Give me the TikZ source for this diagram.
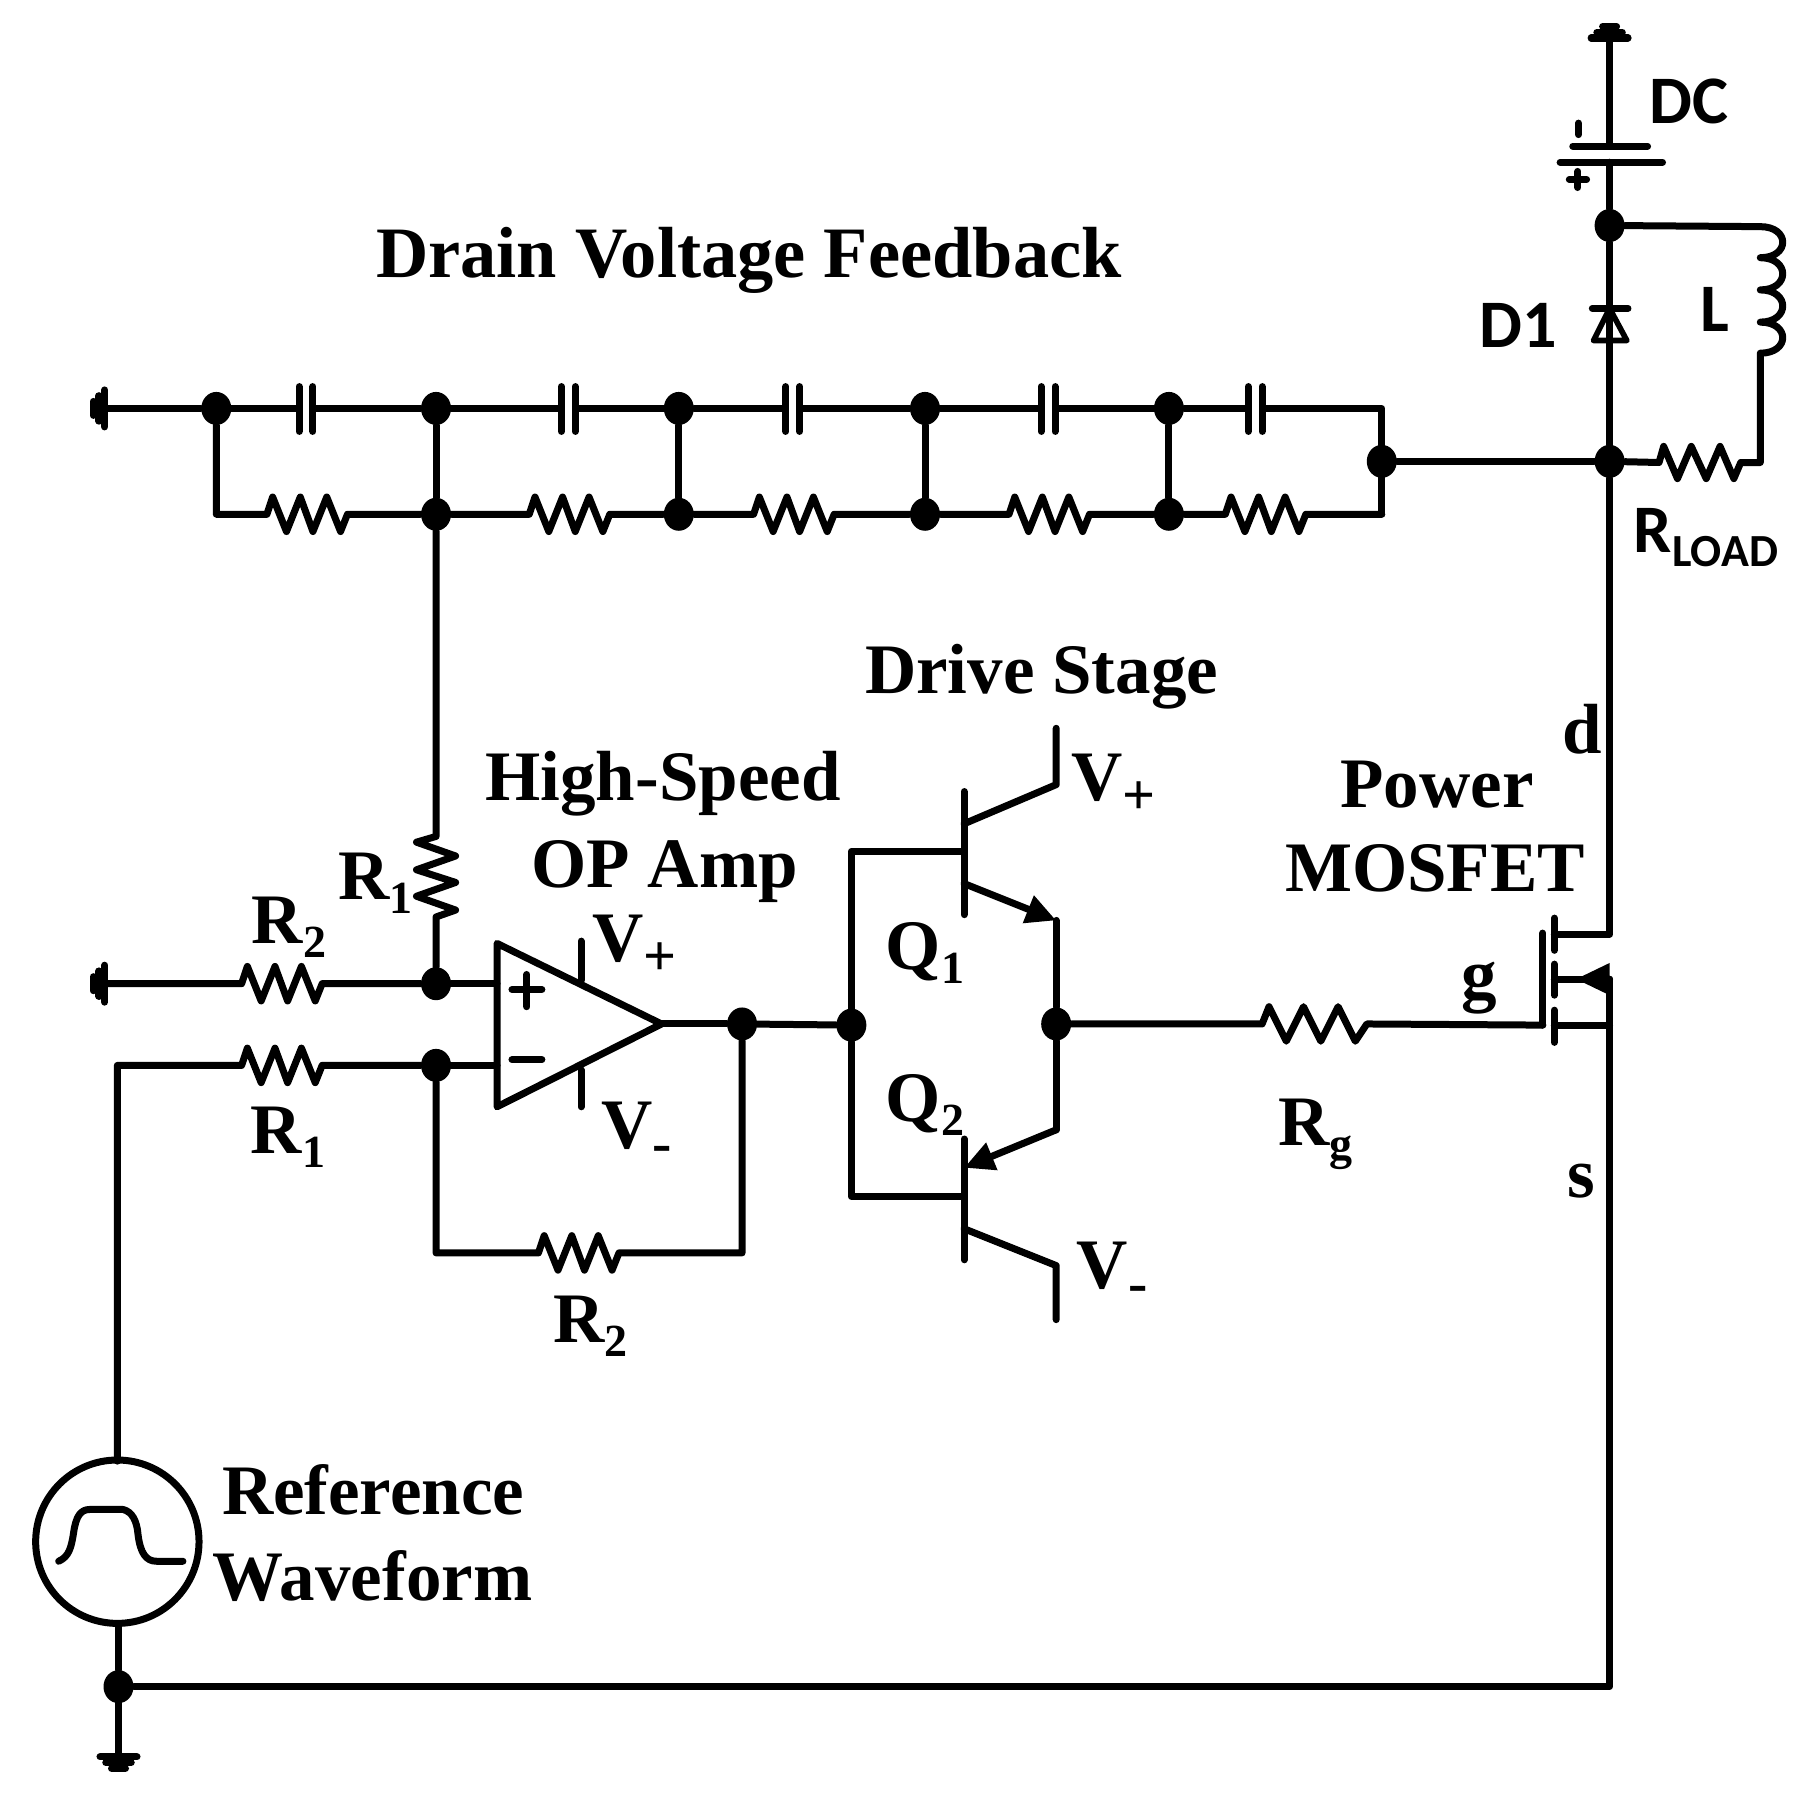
\documentclass[tikz,border=0pt]{standalone}
\usepackage{fontspec}
\setmainfont{Liberation Serif}
\newfontfamily\carl{Carlito}
\usetikzlibrary{arrows.meta,shapes.geometric}
\def\Rz{ -- ++(5,-15) -- ++(12,30) -- ++(12,-30) -- ++(11,30) -- ++(12,-30) -- ++(12,30) -- ++(6,-15)}
\def\Rv{ -- ++(-17,5) -- ++(34,12) -- ++(-34,12) -- ++(34,11) -- ++(-34,12) -- ++(34,12) -- ++(-17,6)}
\newcommand\Sb[2][23]{\raisebox{-7pt}{\fontsize{#1}{#1}\selectfont #2}}
\newcommand\Ser{\fontsize{35.5}{38}\selectfont\bfseries}
\newcommand\Sa{\fontsize{34}{36}\selectfont\bfseries\carl}
\tikzset{
 x=0.5753pt,y=-0.5753pt,
 wire/.style={line width=3.5pt,line join=round,line cap=round},
 dot/.style={ellipse,fill=black,draw=none,inner sep=0pt,minimum width=15pt,minimum height=16.5pt},
 lbl/.style={anchor=base west,inner sep=0pt,outer sep=0pt},
 pt/.style={wire,-{Triangle[length=15pt,width=14pt]}},
 gnd/.pic={\draw[line width=3.6pt,line cap=round] (-16,0)--(16,0) (-11,5)--(11,5) (-6,10)--(6,10);}
}
\begin{document}
\begin{tikzpicture}
\useasboundingbox (0,0) rectangle (1568,1562);
% junctions
\node[dot] (n0) at (188,355) {};
\node[dot] (t1) at (379,355) {};
\node[dot] (t2) at (590,355) {};
\node[dot] (t3) at (804,355) {};
\node[dot] (t4) at (1016,355) {};
\node[dot] (b1) at (379,447) {};
\node[dot] (b2) at (590,447) {};
\node[dot] (b3) at (804,447) {};
\node[dot] (b4) at (1016,447) {};
\node[dot] (e) at (1201,401) {};
\node[dot] (m) at (1399,401) {};
\node[dot] (dc) at (1399,196) {};
\node[dot] (ip) at (379,855) {};
\node[dot] (im) at (379,926) {};
\node[dot] (ou) at (645,890) {};
\node[dot] (ba) at (740,891) {};
\node[dot] (em) at (918,890) {};
\node[dot] (gn) at (103,1466) {};
% named ends
\coordinate (gtop) at (1399,33);
\coordinate (gl1) at (91,355);
\coordinate (gl2) at (91,855);
\coordinate (gb) at (103,1527);
\coordinate (corTL) at (188,447);
\coordinate (corTR) at (1201,355);
\coordinate (corBR) at (1201,447);
\coordinate (p1) at (1399,127);
\coordinate (p2) at (1399,141);
\coordinate (corF1) at (379,1089);
\coordinate (corF2) at (645,1089);
\coordinate (oaP) at (432,855);
\coordinate (oaM) at (432,926);
\coordinate (oaO) at (575,890);
\coordinate (srcT) at (102,1270);
\coordinate (srcB) at (103,1412);
\coordinate (srcL) at (102,926);
\coordinate (g) at (1341,891);
\coordinate (dr) at (1399,812);
\coordinate (so) at (1399,851);
\coordinate (q1b) at (838,740);
\coordinate (q2b) at (838,1040);
\coordinate (q1bc) at (740,740);
\coordinate (q2bc) at (740,1040);
% feedback chain
\draw[wire] (gl1) -- (n0);
\draw[wire] (n0) -- (t1);
\draw[wire] (t1) -- (t2);
\draw[wire] (t2) -- (t3);
\draw[wire] (t3) -- (t4);
\draw[wire] (t4) -- (corTR) -- (corBR);
\draw[wire] (n0) -- (corTL) -- (232,447) \Rz -- (b1);
\draw[wire] (b1) -- (460,447) \Rz -- (b2);
\draw[wire] (b2) -- (655,447) \Rz -- (b3);
\draw[wire] (b3) -- (877,447) \Rz -- (b4);
\draw[wire] (b4) -- (1065,447) \Rz -- (corBR);
\draw[wire] (t1) -- (b1);
\draw[wire] (t2) -- (b2);
\draw[wire] (t3) -- (b3);
\draw[wire] (t4) -- (b4);
\draw[wire] (e) -- (m);
% capacitors (white gap)
\foreach \x in {266,494,689,911,1091}{
 \fill[white] (\x-5,345) rectangle (\x+5,365);
 \draw[wire] (\x-6,336) -- (\x-6,375) (\x+6,336) -- (\x+6,375);
}
% supply branch
\draw[wire] (gtop) -- (p1);
\draw[wire] (p2) -- (dc);
\draw[wire] (1367,127) -- (1432,127);
\draw[wire] (1356,141) -- (1445,141);
\draw[wire] (1372,107) -- (1372,117);
\draw[wire] (1364,156) -- (1379,156) (1371.5,149) -- (1371.5,163);
\pic[rotate=180] at (gtop) {gnd};
\draw[wire] (dc) -- (m);
\draw[line width=2.8pt,line join=round,fill=white] (1399,268) -- (1385,296) -- (1414,296) -- cycle;
\draw[wire] (1399,268) -- (1399,300);
\draw[wire] (1384,268) -- (1415,268);
\draw[wire] (dc) -- (1530,197) .. controls (1556,197) and (1556,224) .. (1530,224)
 .. controls (1556,224) and (1556,252) .. (1530,252)
 .. controls (1556,252) and (1556,280) .. (1530,280)
 .. controls (1556,280) and (1556,307) .. (1530,307) -- (1530,402) -- (1513,402)
 -- ++(-6,14) -- ++(-12,-28) -- ++(-12,28) -- ++(-13,-28) -- ++(-12,28) -- ++(-12,-28) -- (1442,402) -- (m);
\draw[wire] (m) -- (dr) -- (1351,812);
% input network
\draw[wire] (b1) -- (379,727) \Rv -- (ip);
\pic[rotate=-90] at (gl1) {gnd};
\pic[rotate=-90] at (gl2) {gnd};
\draw[wire] (gl2) -- (210,855) \Rz -- (ip);
\draw[wire] (ip) -- (oaP);
\draw[wire] (srcT) -- (srcL) -- (210,926) \Rz -- (im);
\draw[wire] (im) -- (oaM);
\draw[wire] (im) -- (corF1) -- (468,1089) \Rz -- (corF2) -- (ou);
% op amp
\draw[wire] (432,820) -- (oaO) -- (432,962) -- cycle;
\draw[wire] (505,818) -- (505,852) (505,930) -- (505,962);
\draw[wire] (445,860) -- (471,860) (458,847) -- (458,875);
\draw[wire] (445,921) -- (471,921);
\draw[wire] (oaO) -- (ou);
\draw[wire] (ou) -- (ba);
% drive stage
\draw[wire] (ba) -- (q1bc) -- (q1b);
\draw[wire] (ba) -- (q2bc) -- (q2b);
\draw[wire] (838,688) -- (838,795);
\draw[wire] (838,990) -- (838,1095);
\draw[wire] (838,716) -- (918,682) -- (918,633);
\draw[wire] (838,1068) -- (918,1100) -- (918,1147);
\draw[pt] (838,768) -- (918,800);
\draw[wire] (918,800) -- (em);
\draw[wire] (em) -- (918,982);
\draw[pt] (918,982) -- (838,1015);
\draw[wire] (em) -- (1097,890) -- ++(6,-15) -- ++(15,30) -- ++(15,-30) -- ++(15,30) -- ++(15,-30) -- ++(15,30) -- (1188,890) -- (g);
% MOSFET
\draw[wire] (g) -- (1341,811);
\draw[wire] (1351,798) -- (1351,826) (1351,838) -- (1351,865) (1351,878) -- (1351,906);
\draw[wire] (1351,851) -- (so);
\fill (1399,837) -- (1370,851) -- (1399,865) -- cycle;
\draw[wire] (1351,891) -- (1399,891);
\draw[wire] (so) -- (1399,1466) -- (gn);
% source
\draw[wire] (102,1340) circle (71);
\draw[wire] (51,1357) .. controls (60,1353) and (62,1345) .. (64,1332) .. controls (66,1318) and (70,1312) .. (78,1312) -- (107,1312) .. controls (115,1314) and (119,1322) .. (120,1334) .. controls (122,1350) and (127,1357) .. (136,1357) -- (159,1357);
\draw[wire] (srcB) -- (gn);
\draw[wire] (gn) -- (gb);
\pic at (gb) {gnd};
% labels
\node[lbl] (l1) at (327,241) {\fontsize{36.2}{38}\selectfont\bfseries Drain Voltage Feedback};
\node[lbl] (l2) at (752,603) {\Ser Drive Stage};
\node[lbl] (l3) at (422,696) {\Ser High-Speed};
\node[lbl] (l4) at (462,771) {\Ser OP Amp};
\node[lbl] (l5) at (1165,702) {\Ser Power};
\node[lbl] (l6) at (1117,775) {\Ser MOSFET};
\node[lbl] (l7) at (193,1316) {\Ser Reference};
\node[lbl] (l8) at (185,1391) {\Ser Waveform};
\node[lbl] (l9) at (1358,655) {\Ser d};
\node[lbl] (l10) at (1270,868) {\Ser g};
\node[lbl] (l11) at (1362,1041) {\Ser s};
\node[lbl] (l12) at (931,696) {\Ser V\Sb[29]{+}};
\node[lbl] (l13) at (936,1120) {\Ser V\Sb[29]{-}};
\node[lbl] (l14) at (515,836) {\Ser V\Sb[29]{+}};
\node[lbl] (l15) at (523,998) {\Ser V\Sb[29]{-}};
\node[lbl] (l16) at (294,782) {\Ser R\Sb{1}};
\node[lbl] (l17) at (219,820) {\Ser R\Sb{2}};
\node[lbl] (l18) at (218,1003) {\Ser R\Sb{1}};
\node[lbl] (l19) at (481,1167) {\Ser R\Sb{2}};
\node[lbl] (l20) at (770,843) {\Ser Q\Sb{1}};
\node[lbl] (l21) at (770,975) {\Ser Q\Sb{2}};
\node[lbl] (l22) at (1111,996) {\Ser R\Sb{g}};
\node[lbl] (l23) at (1434,107) {\Sa DC};
\node[lbl] (l24) at (1286,302) {\Sa D1};
\node[lbl] (l25) at (1478,288) {\Sa L};
\node[lbl] (l26) at (1420,480) {\Sa R\Sb[23]{LOAD}};
\end{tikzpicture}
\end{document}
